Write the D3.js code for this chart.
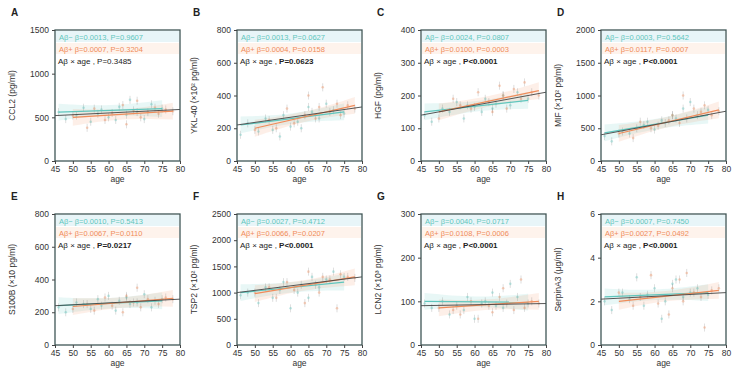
<!DOCTYPE html>
<html>
<head>
<meta charset="utf-8">
<script src="https://cdn.jsdelivr.net/npm/d3@7"></script>
<style>
  body { margin: 0; background: #fff; }
  svg text { font-family: "Liberation Sans", Arial, sans-serif; }
</style>
</head>
<body>
<svg id="chart" width="732" height="378"></svg>
<script>
// ages of the two groups (same cohort for every marker)
const negAges = [46, 48, 51, 53, 55, 57, 58, 60, 62, 63, 65, 66, 68, 70, 72, 75];
const posAges = [50, 54, 56, 59, 61, 64, 65, 67, 68, 69, 71, 73, 74, 76, 78];

const letters = ["A", "B", "C", "D", "E", "F", "G", "H"];
const yTitles = ["CCL2 (pg/ml)", "YKL-40 (×10² pg/ml)", "HGF (pg/ml)", "MIF (×10² pg/ml)",
                 "S100B (×10 pg/ml)", "TSP2 (×10² pg/ml)", "LCN2 (×10³ pg/ml)", "SerpinA3 (μg/ml)"];
const yMax = [1500, 800, 400, 2000, 800, 2500, 300, 6];
const yStep = [500, 200, 100, 500, 200, 500, 100, 2];
const xTicks = [45, 50, 55, 60, 65, 70, 75, 80];

// marker values, Aβ− and Aβ+
const ccl2Neg = [560, 480, 520, 610, 450, 540, 590, 500, 470, 620, 530, 700, 560, 480, 650, 600];
const ccl2Pos = [520, 380, 600, 470, 550, 640, 420, 580, 690, 500, 560, 610, 540, 590, 570];
const ykl40Neg = [160, 230, 180, 260, 190, 150, 280, 210, 240, 200, 330, 300, 260, 350, 310, 290];
const ykl40Pos = [190, 250, 200, 320, 230, 280, 400, 260, 330, 450, 300, 350, 280, 340, 320];
const hgfNeg = [140, 120, 160, 150, 180, 130, 170, 165, 150, 190, 160, 175, 200, 170, 210, 190];
const hgfPos = [130, 190, 170, 160, 210, 180, 150, 230, 200, 160, 220, 190, 240, 210, 200];
const mifNeg = [380, 300, 450, 420, 500, 550, 600, 480, 620, 580, 700, 650, 800, 900, 700, 780];
const mifPos = [420, 350, 600, 500, 540, 620, 700, 580, 1000, 650, 800, 750, 850, 700, 760];
const s100bNeg = [230, 200, 260, 250, 220, 280, 240, 300, 210, 270, 290, 250, 260, 310, 230, 280];
const s100bPos = [220, 250, 210, 290, 240, 200, 300, 260, 350, 230, 280, 270, 250, 290, 280];
const tsp2Neg = [950, 1000, 800, 1100, 900, 1050, 1200, 700, 1000, 1150, 900, 1300, 1100, 1250, 1400, 1300];
const tsp2Pos = [1000, 1100, 900, 1200, 1050, 800, 1400, 1150, 1000, 1300, 1250, 700, 1350, 1300, 1280];
const lcn2Neg = [95, 85, 100, 70, 90, 80, 110, 60, 95, 100, 120, 90, 85, 140, 110, 95];
const lcn2Pos = [85, 80, 70, 100, 60, 90, 75, 110, 130, 95, 80, 150, 85, 100, 95];
const serpinNeg = [2.0, 1.6, 2.4, 2.1, 3.1, 1.8, 2.3, 2.6, 1.2, 2.0, 2.8, 3.0, 2.2, 2.4, 2.6, 2.3];
const serpinPos = [2.4, 1.8, 2.2, 3.2, 1.9, 1.4, 2.6, 3.0, 2.0, 3.3, 2.4, 2.2, 0.8, 2.5, 2.6];

// fitted lines: [age0, value0, age1, value1]
const fitNeg = [[46, 560, 75, 600], [46, 220, 75, 300], [46, 150, 75, 185], [46, 430, 75, 700],
                [46, 240, 75, 270], [46, 1000, 75, 1200], [46, 100, 75, 98], [46, 2.2, 75, 2.4]];
const fitPos = [[50, 500, 78, 570], [50, 200, 78, 340], [50, 150, 78, 215], [50, 420, 78, 780],
                [50, 235, 78, 285], [50, 980, 78, 1300], [50, 85, 78, 100], [50, 2.0, 78, 2.5]];
const fitAll = [[45, 520, 80, 590], [45, 220, 80, 330], [45, 140, 80, 210], [45, 400, 80, 760],
                [45, 240, 80, 280], [45, 1000, 80, 1300], [45, 90, 80, 95], [45, 2.1, 80, 2.4]];

// legend strings
const negStats = ["β=0.0013, P=0.9607", "β=0.0013, P=0.0627", "β=0.0024, P=0.0807", "β=0.0003, P=0.5642",
                  "β=0.0010, P=0.5413", "β=0.0027, P=0.4712", "β=0.0040, P=0.0717", "β=0.0007, P=0.7450"];
const posStats = ["β=0.0007, P=0.3204", "β=0.0004, P=0.0158", "β=0.0100, P=0.0003", "β=0.0117, P=0.0007",
                  "β=0.0067, P=0.0110", "β=0.0066, P=0.0207", "β=0.0108, P=0.0006", "β=0.0027, P=0.0492"];
const interP = ["P=0.3485", "P=0.0623", "P<0.0001", "P<0.0001", "P=0.0217", "P<0.0001", "P<0.0001", "P<0.0001"];

const negVals = [ccl2Neg, ykl40Neg, hgfNeg, mifNeg, s100bNeg, tsp2Neg, lcn2Neg, serpinNeg];
const posVals = [ccl2Pos, ykl40Pos, hgfPos, mifPos, s100bPos, tsp2Pos, lcn2Pos, serpinPos];

const TEAL = "#5fc6bd", ORANGE = "#f08c5a";
const lefts = [55, 237, 421, 601];
const tops = [30, 214];
const W = 125, H = 131;

const svg = d3.select("#chart");

letters.forEach((letter, i) => {
    let col = i % 4, row = Math.floor(i / 4);
    let x0 = lefts[col], y0 = tops[row];
    let g = svg.append("g").attr("transform", "translate(" + x0 + "," + y0 + ")");

    let x = d3.scaleLinear().domain([45, 80]).range([0, W]);
    let y = d3.scaleLinear().domain([0, yMax[i]]).range([H, 0]);

    // legend bands
    g.append("rect").attr("x", 1).attr("y", 1).attr("width", W - 2).attr("height", 11)
        .attr("fill", "#e2f3f6").attr("opacity", 0.8);
    g.append("rect").attr("x", 1).attr("y", 13).attr("width", W - 2).attr("height", 11)
        .attr("fill", "#fdeee4").attr("opacity", 0.7);

    // confidence bands
    [[fitNeg[i], TEAL], [fitPos[i], ORANGE]].forEach(([f, c]) => {
        let spread = yMax[i] * 0.04;
        let band = [[f[0], f[1] - spread * 1.6, f[1] + spread * 1.6],
                    [(f[0] + f[2]) / 2, (f[1] + f[3]) / 2 - spread * 0.7, (f[1] + f[3]) / 2 + spread * 0.7],
                    [f[2], f[3] - spread * 1.6, f[3] + spread * 1.6]];
        g.append("path")
            .attr("d", d3.area().x(d => x(d[0])).y0(d => y(d[1])).y1(d => y(d[2])).curve(d3.curveBasis)(band))
            .attr("fill", c).attr("opacity", 0.14);
    });

    // points
    [[negAges, negVals[i], TEAL], [posAges, posVals[i], ORANGE]].forEach(([ages, vals, c]) => {
        g.append("g").selectAll("line").data(vals).enter().append("line")
            .attr("x1", (d, j) => x(ages[j])).attr("x2", (d, j) => x(ages[j]))
            .attr("y1", d => y(d) - 4).attr("y2", d => y(d) + 4)
            .attr("stroke", "#777").attr("stroke-width", 0.6).attr("opacity", 0.4);
        g.append("g").selectAll("circle").data(vals).enter().append("circle")
            .attr("cx", (d, j) => x(ages[j])).attr("cy", d => y(d))
            .attr("r", 1.3).attr("fill", c).attr("opacity", 0.4);
    });

    // fitted lines
    [[fitNeg[i], TEAL, 1.2], [fitPos[i], ORANGE, 1.2], [fitAll[i], "#444", 0.9]].forEach(([f, c, w]) => {
        g.append("line")
            .attr("x1", x(f[0])).attr("y1", y(f[1])).attr("x2", x(f[2])).attr("y2", y(f[3]))
            .attr("stroke", c).attr("stroke-width", w);
    });

    // frame
    g.append("rect").attr("width", W).attr("height", H)
        .attr("fill", "none").attr("stroke", "#3f5656").attr("stroke-width", 1.3);

    // axes
    let yAxis = d3.axisLeft(y).tickValues(d3.range(0, yMax[i] + yStep[i] / 2, yStep[i]))
        .tickFormat(d3.format("d")).tickSize(3).tickPadding(3);
    let xAxis = d3.axisBottom(x).tickValues(xTicks).tickSize(3).tickPadding(2);
    let ya = g.append("g").call(yAxis);
    let xa = g.append("g").attr("transform", "translate(0," + H + ")").call(xAxis);
    [ya, xa].forEach(a => {
        a.select(".domain").remove();
        a.selectAll("line").attr("stroke", "#444");
        a.selectAll("text").attr("font-size", 8.5).attr("fill", "#333");
    });

    // legend texts
    g.append("text").attr("x", 4).attr("y", 9.5).attr("font-size", 7.5).attr("fill", TEAL)
        .text("Aβ−  " + negStats[i]);
    g.append("text").attr("x", 4).attr("y", 21.5).attr("font-size", 7.5).attr("fill", ORANGE)
        .text("Aβ+  " + posStats[i]);
    let t = g.append("text").attr("x", 3).attr("y", 34).attr("font-size", 8).attr("fill", "#222");
    t.append("tspan").text("Aβ × age , ");
    t.append("tspan").attr("font-weight", i === 0 ? "normal" : "bold").text(interP[i]);

    // titles
    g.append("text").attr("transform", "translate(-40," + (H / 2) + ")rotate(-90)")
        .attr("text-anchor", "middle").attr("font-size", 8.5).attr("fill", "#333").text(yTitles[i]);
    g.append("text").attr("x", W / 2).attr("y", H + 21).attr("text-anchor", "middle")
        .attr("font-size", 8.5).attr("fill", "#333").text("age");
    g.append("text").attr("x", -44).attr("y", -14).attr("font-size", 10).attr("font-weight", "bold")
        .attr("fill", "#222").text(letter);
});
</script>
</body>
</html>
